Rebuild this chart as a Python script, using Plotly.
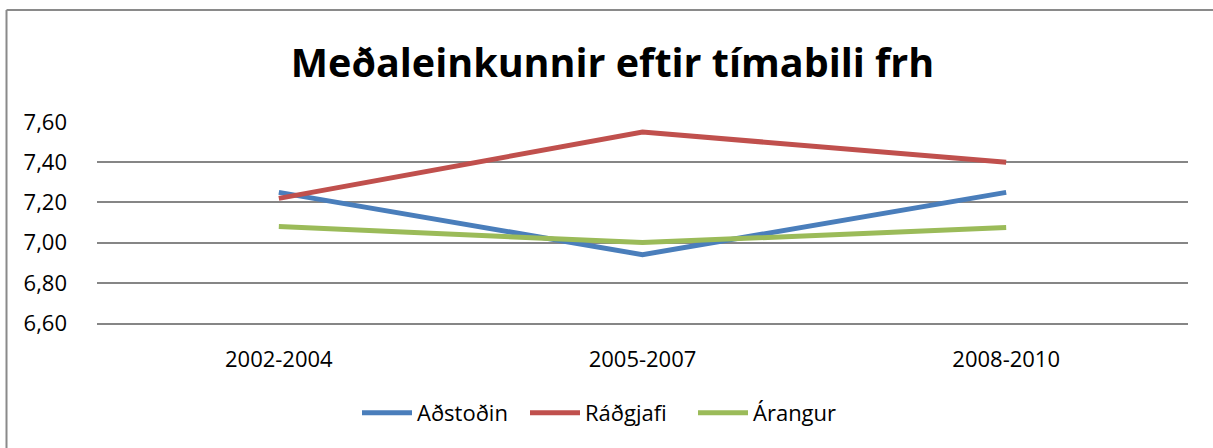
import plotly.graph_objects as go

categories = ["2002-2004", "2005-2007", "2008-2010"]
adstodin = [7.25, 6.94, 7.25]
radgjafi = [7.22, 7.55, 7.40]
arangur = [7.08, 7.00, 7.075]
series_names = ["Aðstoðin", "Ráðgjafi", "Árangur"]
colors = ["#4A7EBB", "#C0504D", "#9BBB59"]
title = "Meðaleinkunnir eftir tímabili frh"
y_ticks = [6.6, 6.8, 7.0, 7.2, 7.4, 7.6]

fig = go.Figure()
for name, vals, col in zip(series_names, [adstodin, radgjafi, arangur], colors):
    fig.add_trace(go.Scatter(x=categories, y=vals, name=name, mode="lines",
                             line=dict(color=col, width=5)))

W, H = 1213, 448
L, R, T, B = 97, 25, 122, 125
pw = W - L - R
ph = H - T - B

def px_x(p):
    return (p - L) / pw

def px_y(p):
    return (H - B - p) / ph

font_family = "Open Sans, Lato, sans-serif"

fig.update_layout(
    width=W, height=H,
    margin=dict(l=L, r=R, t=T, b=B, autoexpand=False),
    paper_bgcolor="white", plot_bgcolor="white",
    separators=",.",
    font=dict(family=font_family, color="#000000", size=22),
    title=dict(text="<b>" + title + "</b>", x=0.505, xanchor="center",
               xref="container", y=1 - 63 / H, yanchor="middle", yref="container",
               font=dict(family=font_family, size=39.5, color="#000000")),
    showlegend=True,
    legend=dict(orientation="h", x=px_x(357), xanchor="left",
                y=px_y(413), yanchor="middle", font=dict(size=22),
                tracegroupgap=0, itemsizing="constant", itemwidth=50,
                entrywidth=103, entrywidthmode="pixels"),
    xaxis=dict(type="category", range=[-0.5, 2.5], showgrid=False, zeroline=False,
               showline=True, linecolor="#868686", linewidth=1.5,
               ticks="", tickfont=dict(size=22), ticklabelstandoff=16,
               automargin=False),
    yaxis=dict(range=[6.6, 7.6], tickvals=y_ticks, tickformat=".2f",
               showgrid=True, gridcolor="#868686", gridwidth=1.5, zeroline=False,
               showline=False, ticks="", tickfont=dict(size=22), ticklabelstandoff=29,
               automargin=False),
    shapes=[
        dict(type="line", xref="paper", yref="paper", x0=px_x(6.5), x1=px_x(1213),
             y0=px_y(10), y1=px_y(10), line=dict(color="#8a8a8a", width=2)),
        dict(type="line", xref="paper", yref="paper", x0=px_x(6.5), x1=px_x(6.5),
             y0=px_y(10), y1=px_y(448), line=dict(color="#8a8a8a", width=2)),
    ],
)

fig.write_html("out.html", config={"displayModeBar": False},
               post_script="document.body.style.margin='0px';")
